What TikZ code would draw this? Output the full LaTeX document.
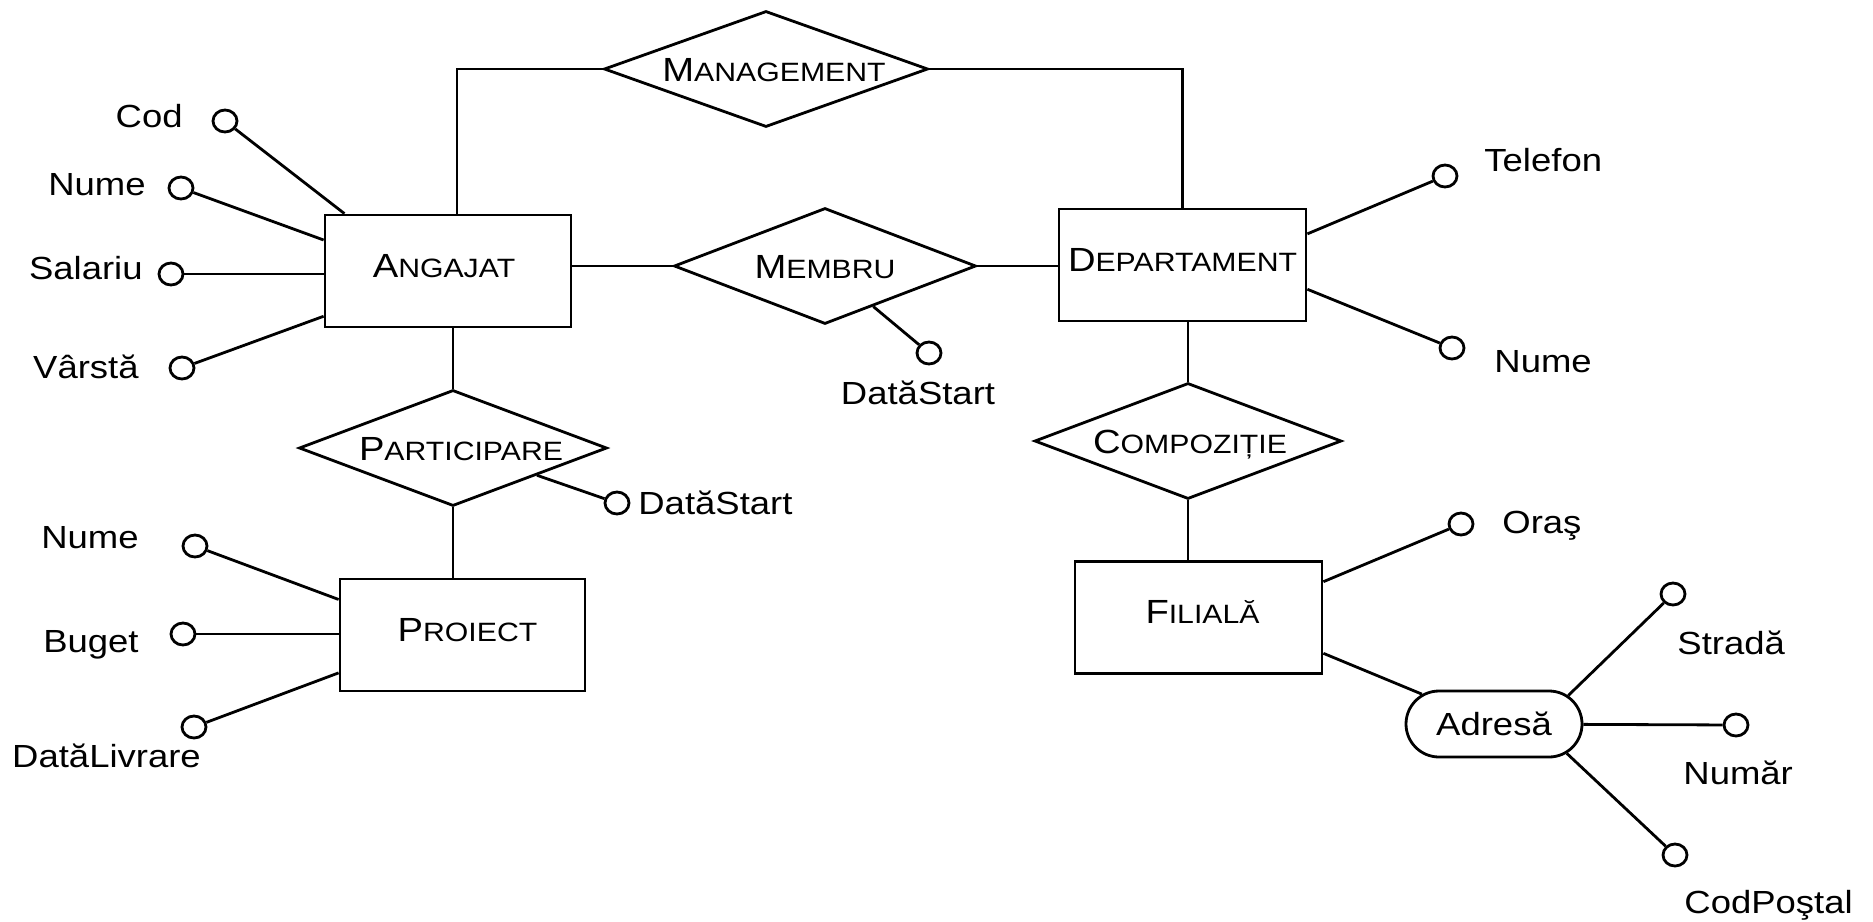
\documentclass[tikz,border=0pt]{standalone}
\usepackage{fontspec}
\setmainfont[FakeStretch=1.14]{Liberation Sans}
\usetikzlibrary{shapes.geometric,shapes.misc,calc}

% entity / relationship names: large initial, smaller capitals after it
\newcommand\capword[2]{{\fontsize{33.5}{36}\selectfont #1}{\fontsize{26.5}{30}\selectfont #2}}

\begin{document}
\begin{tikzpicture}[x=1pt,y=-1pt,line width=2.8pt,line join=miter,
  entity/.style={draw,rectangle,minimum width=#1,minimum height=112pt,inner sep=0pt,
                 text height=24pt,text depth=12pt},
  relation/.style={draw,diamond,minimum width=#1,minimum height=116pt,inner sep=0pt,
                   shape aspect=2.8,text height=24pt,text depth=0pt},
  composite/.style={draw,rounded rectangle,minimum width=176pt,minimum height=66pt,
                    inner sep=0pt,text height=22.8pt,text depth=0pt,
                    font=\fontsize{32}{36}\selectfont},
  attr/.style={draw,ellipse,minimum width=24pt,minimum height=22pt,inner sep=0pt},
  lbl/.style={inner sep=0pt,text height=22.8pt,text depth=0pt,
              font=\fontsize{32}{36}\selectfont}]

\useasboundingbox (0,0) rectangle (1873,921);

% entities
\node[entity=246pt] (ang) at (448,271)    {\hspace*{-8pt}\capword{A}{NGAJAT}};
\node[entity=247pt] (dep) at (1182.5,265) {\capword{D}{EPARTAMENT}};
\node[entity=245pt] (pro) at (462.5,635)  {\hspace*{10pt}\capword{P}{ROIECT}};
\node[entity=247pt] (fil) at (1198.5,617.5) {\hspace*{8pt}\capword{F}{ILIALĂ}};

% relationships
\node[relation=324pt] (man) at (766,69)   {\hspace*{16pt}\capword{M}{ANAGEMENT}};
\node[relation=302pt] (mem) at (825,266)  {\capword{M}{EMBRU}};
\node[relation=308pt] (par) at (453,448)  {\hspace*{16pt}\capword{P}{ARTICIPARE}};
\node[relation=307pt] (com) at (1188,441) {\hspace*{4pt}\capword{C}{OMPOZIȚIE}};

% composite attribute
\node[composite] (adr) at (1494,724) {Adresă};

% relationship links
\draw ($(ang.north)+(9,0)$) |- (man.west);
\draw (man.east) -| (dep.north);
\draw (mem.west) -- (mem.west -| ang.east);
\draw (mem.east) -- (mem.east -| dep.west);
\draw (par.north) -- (par.north |- ang.south);
\draw (par.south) -- (par.south |- pro.north);
\draw (com.north) -- (com.north |- dep.south);
\draw (com.south) -- (com.south |- fil.north);
\draw (fil.-16) -- (adr);

% attribute markers
\node[attr] (cCod)    at (225,121) {};
\node[attr] (cNumeA)  at (181,188) {};
\node[attr] (cSal)    at (171,274) {};
\node[attr] (cVarsta) at (182,368) {};
\node[attr] (cNumeP)  at (195,546) {};
\node[attr] (cBuget)  at (183,634) {};
\node[attr] (cLivr)   at (194,727) {};
\node[attr] (cDsPar)  at (617,503) {};
\node[attr] (cDsMem)  at (929,353) {};
\node[attr] (cTel)    at (1445,176) {};
\node[attr] (cNumeD)  at (1452,348) {};
\node[attr] (cOras)   at (1461,524) {};
\node[attr] (cStrada) at (1673,594) {};
\node[attr] (cNumar)  at (1736,725) {};
\node[attr] (cCodP)   at (1675,855) {};

% attribute links
\draw (ang.151) -- (cCod);
\draw (ang.166) -- (cNumeA);
\draw (cSal) -- (cSal -| ang.west);
\draw (ang.200) -- (cVarsta);
\draw (pro.164) -- (cNumeP);
\draw (cBuget) -- (cBuget -| pro.west);
\draw (pro.197) -- (cLivr);
\draw (par.-18) -- (cDsPar);
\draw (mem.-40) -- (cDsMem);
\draw (dep.14) -- (cTel);
\draw (dep.-11) -- (cNumeD);
\draw (fil.16) -- (cOras);
\draw (adr.21) -- (cStrada);
\draw (adr) -- (cNumar);
\draw (adr.-22) -- (cCodP);

% attribute names
\node[lbl,anchor=east] (tCod)    at (184,116) {Cod};
\node[lbl,anchor=east] (tNumeA)  at (147,184) {Nume};
\node[lbl,anchor=east] (tSal)    at (144,268) {Salariu};
\node[lbl,anchor=east] (tVarsta) at (140,367) {Vârstă};
\node[lbl,anchor=east] (tNumeP)  at (140,537) {Nume};
\node[lbl,anchor=east] (tBuget)  at (140,641) {Buget};
\node[lbl]             (tLivr)   at (106.5,756) {DatăLivrare};
\node[lbl,anchor=west] (tDsPar)  at (637,503) {DatăStart};
\node[lbl]             (tDsMem)  at (918,393) {DatăStart};
\node[lbl,anchor=west] (tTel)    at (1483,160.5) {Telefon};
\node[lbl,anchor=west] (tNumeD)  at (1493,361) {Nume};
\node[lbl,anchor=west] (tOras)   at (1501,522) {Oraş};
\node[lbl,anchor=west] (tStrada) at (1676,643.5) {Stradă};
\node[lbl,anchor=west] (tNumar)  at (1682,773) {Număr};
\node[lbl,anchor=west] (tCodP)   at (1683,902.5) {CodPoştal};
\end{tikzpicture}
\end{document}
